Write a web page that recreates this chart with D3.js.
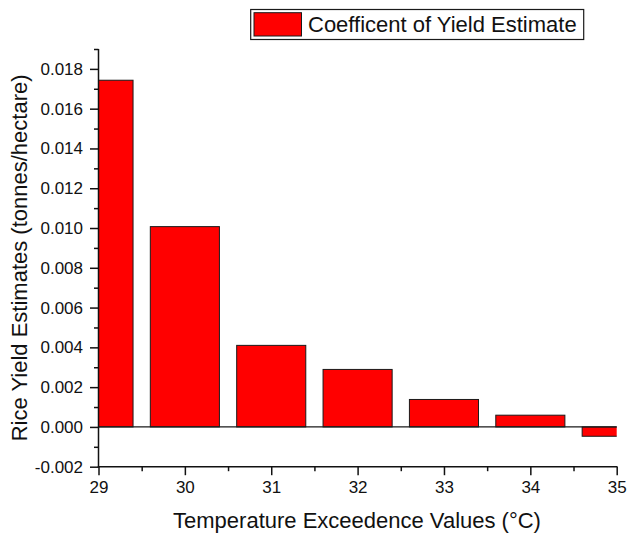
<!DOCTYPE html>
<html>
<head>
<meta charset="utf-8">
<script src="https://cdn.jsdelivr.net/npm/d3@7"></script>
<style>
  html, body { margin: 0; padding: 0; background: #fff; }
  svg { display: block; font-family: "Liberation Sans", Arial, sans-serif; }
</style>
</head>
<body>
<svg id="chart" width="627" height="533"></svg>
<script>
// Temperature exceedence thresholds (°C) and the fitted yield coefficients
const temperatures = [29, 30, 31, 32, 33, 34, 35];
const coefficients = [0.01743, 0.01007, 0.0041, 0.00289, 0.00138, 0.00059, -0.00047];
const yTickValues = [-0.002, 0.000, 0.002, 0.004, 0.006, 0.008, 0.010, 0.012, 0.014, 0.016, 0.018];
const xTickValues = [29, 30, 31, 32, 33, 34, 35];
const seriesName = "Coefficent of Yield Estimate";

const svg = d3.select("#chart");
const x = d3.scaleLinear().domain([29, 35]).range([98.5, 616.7]);
const y = d3.scaleLinear().domain([-0.002, 0.019]).range([466.7, 49]);
const barWidth = 0.8;
const ink = "#111";

// clip bars to the plot region
svg.append("defs").append("clipPath").attr("id", "plotClip")
  .append("rect")
  .attr("x", x(29)).attr("y", y(0.019))
  .attr("width", x(35) - x(29)).attr("height", y(-0.002) - y(0.019));

const bars = svg.append("g").attr("clip-path", "url(#plotClip)");
bars.selectAll("rect")
  .data(temperatures.map((t, i) => ({ t, v: coefficients[i] })))
  .join("rect")
  .attr("x", d => x(d.t - barWidth / 2))
  .attr("width", d => x(d.t + barWidth / 2) - x(d.t - barWidth / 2))
  .attr("y", d => y(Math.max(0, d.v)))
  .attr("height", d => Math.abs(y(d.v) - y(0)))
  .attr("fill", "#ff0000")
  .attr("stroke", "#1a1a1a")
  .attr("stroke-width", 1);

// zero reference line
svg.append("line")
  .attr("x1", x(29)).attr("x2", x(35))
  .attr("y1", y(0)).attr("y2", y(0))
  .attr("stroke", "#1a1a1a").attr("stroke-width", 1.2);

// Y axis: major and minor ticks
const fmtY = v => d3.format(".3f")(v).replace("−", "-");
const yMinor = d3.range(-0.002, 0.0195, 0.001).filter(v => !yTickValues.some(t => Math.abs(t - v) < 1e-9));
const yAxis = svg.append("g").attr("transform", `translate(${x(29)},0)`)
  .call(d3.axisLeft(y).tickValues(yTickValues).tickFormat(fmtY).tickSize(8.5).tickSizeOuter(0))
  .call(g => g.select(".domain").remove());
yAxis.selectAll("text").attr("font-size", 17).attr("fill", ink).attr("x", -15.5);
yAxis.selectAll(".tick line").attr("stroke", ink).attr("stroke-width", 1.5);
svg.append("g").attr("transform", `translate(${x(29)},0)`)
  .call(d3.axisLeft(y).tickValues(yMinor).tickFormat("").tickSize(4.5).tickSizeOuter(0))
  .call(g => g.select(".domain").remove())
  .selectAll(".tick line").attr("stroke", ink).attr("stroke-width", 1.5);

// X axis: major and minor ticks
const xMinor = d3.range(29.5, 35, 1);
const xAxis = svg.append("g").attr("transform", `translate(0,${y(-0.002)})`)
  .call(d3.axisBottom(x).tickValues(xTickValues).tickFormat(d3.format("d")).tickSize(8.5).tickSizeOuter(0))
  .call(g => g.select(".domain").remove());
xAxis.selectAll("text").attr("font-size", 17).attr("fill", ink).attr("y", 14).attr("dy", "0.71em");
xAxis.selectAll(".tick line").attr("stroke", ink).attr("stroke-width", 1.5);
svg.append("g").attr("transform", `translate(0,${y(-0.002)})`)
  .call(d3.axisBottom(x).tickValues(xMinor).tickFormat("").tickSize(4.5).tickSizeOuter(0))
  .call(g => g.select(".domain").remove())
  .selectAll(".tick line").attr("stroke", ink).attr("stroke-width", 1.5);

// axis lines (left and bottom)
svg.append("line").attr("x1", x(29)).attr("x2", x(29)).attr("y1", y(0.019)).attr("y2", y(-0.002) + 0.75)
  .attr("stroke", ink).attr("stroke-width", 1.5);
svg.append("line").attr("x1", x(29) - 0.75).attr("x2", x(35) + 0.75).attr("y1", y(-0.002)).attr("y2", y(-0.002))
  .attr("stroke", ink).attr("stroke-width", 1.5);

// axis titles
svg.append("text")
  .attr("x", 357).attr("y", 528)
  .attr("text-anchor", "middle").attr("font-size", 22).attr("fill", ink)
  .text("Temperature Exceedence Values (°C)");
svg.append("text")
  .attr("transform", `translate(27,${(y(0.019) + y(-0.002)) / 2}) rotate(-90)`)
  .attr("text-anchor", "middle").attr("font-size", 22).attr("fill", ink)
  .text("Rice Yield Estimates (tonnes/hectare)");

// legend
const legend = svg.append("g");
legend.append("rect").attr("x", 250.7).attr("y", 9.5).attr("width", 333).attr("height", 30)
  .attr("fill", "#fff").attr("stroke", "#1a1a1a").attr("stroke-width", 1.2);
legend.append("rect").attr("x", 254).attr("y", 12.7).attr("width", 47.5).attr("height", 23.3)
  .attr("fill", "#ff0000").attr("stroke", "#1a1a1a").attr("stroke-width", 1);
legend.append("text").attr("x", 308).attr("y", 32).attr("font-size", 22).attr("fill", ink)
  .text(seriesName);
</script>
</body>
</html>
